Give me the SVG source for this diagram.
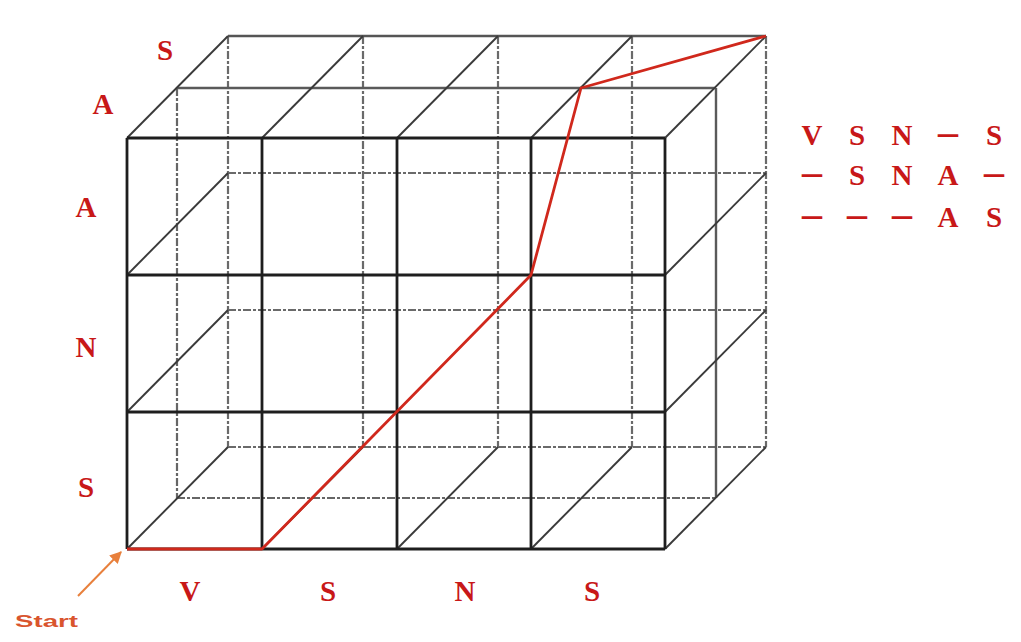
<svg xmlns="http://www.w3.org/2000/svg" width="1021" height="642" viewBox="0 0 1021 642">
<style>
.back{stroke:#6a6a6a;stroke-width:2.2;stroke-dasharray:8 2 3 2;fill:none}
.backedge{stroke:#555;stroke-width:2.4;fill:none}
.mid{stroke:#5a5a5a;stroke-width:2.4;fill:none}
.middash{stroke:#666;stroke-width:2.2;stroke-dasharray:8 2 3 2;fill:none}
.depth{stroke:#3a3a3a;stroke-width:1.9;fill:none}
.front{stroke:#1e1e1e;stroke-width:2.8;fill:none}
.path{stroke:#d0281c;stroke-width:2.8;fill:none;stroke-linejoin:round}
.lab{font-family:"Liberation Serif",serif;font-weight:bold;font-size:29px;fill:#c81818;text-anchor:middle}
.dash{font-size:40px}
</style>
<defs>
<marker id="ah" viewBox="0 0 10 10" refX="9" refY="5" markerWidth="6" markerHeight="6" orient="auto">
<path d="M0,0 L10,5 L0,10 z" fill="#e8803c"/>
</marker>
</defs>
<rect width="1021" height="642" fill="#ffffff"/>
<g id="connectors">
<g id="back-face">
<line class="back" x1="228" y1="36" x2="228" y2="447"/>
<line class="back" x1="363" y1="36" x2="363" y2="447"/>
<line class="back" x1="498" y1="36" x2="498" y2="447"/>
<line class="back" x1="632" y1="36" x2="632" y2="447"/>
<line class="back" x1="766" y1="36" x2="766" y2="447"/>
<line class="backedge" x1="228" y1="36" x2="766" y2="36"/>
<line class="back" x1="228" y1="173" x2="766" y2="173"/>
<line class="back" x1="228" y1="310" x2="766" y2="310"/>
<line class="back" x1="228" y1="447" x2="766" y2="447"/>
</g>
<g id="middle-edges">
<line class="mid" x1="177" y1="88" x2="716" y2="88"/>
<line class="mid" x1="716" y1="88" x2="716" y2="498"/>
<line class="middash" x1="177" y1="88" x2="177" y2="498"/>
<line class="middash" x1="177" y1="498" x2="716" y2="498"/>
</g>
<g id="depth-lines">
<line class="depth" x1="127" y1="138" x2="228" y2="36"/>
<line class="depth" x1="262" y1="138" x2="363" y2="36"/>
<line class="depth" x1="397" y1="138" x2="498" y2="36"/>
<line class="depth" x1="531" y1="138" x2="632" y2="36"/>
<line class="depth" x1="665" y1="138" x2="766" y2="36"/>
<line class="depth" x1="665" y1="275" x2="766" y2="173"/>
<line class="depth" x1="665" y1="412" x2="766" y2="310"/>
<line class="depth" x1="665" y1="549" x2="766" y2="447"/>
<line class="depth" x1="127" y1="275" x2="228" y2="173"/>
<line class="depth" x1="127" y1="412" x2="228" y2="310"/>
<line class="depth" x1="127" y1="549" x2="228" y2="447"/>
<line class="depth" x1="262" y1="549" x2="363" y2="447"/>
<line class="depth" x1="397" y1="549" x2="498" y2="447"/>
<line class="depth" x1="531" y1="549" x2="632" y2="447"/>
</g>
<g id="front-face">
<line class="front" x1="127" y1="138" x2="127" y2="549"/>
<line class="front" x1="262" y1="138" x2="262" y2="549"/>
<line class="front" x1="397" y1="138" x2="397" y2="549"/>
<line class="front" x1="531" y1="138" x2="531" y2="549"/>
<line class="front" x1="665" y1="138" x2="665" y2="549"/>
<line class="front" x1="127" y1="138" x2="665" y2="138"/>
<line class="front" x1="127" y1="275" x2="665" y2="275"/>
<line class="front" x1="127" y1="412" x2="665" y2="412"/>
<line class="front" x1="127" y1="549" x2="665" y2="549"/>
</g>
<polyline id="red-path" class="path" points="127,549 262,549 531,275 581,88 766,36"/>
<line id="start-arrow" x1="78" y1="596" x2="121" y2="552" stroke="#e8803c" stroke-width="2" marker-end="url(#ah)"/>
</g>
<g id="label-left">
<text class="lab" x="165" y="60">S</text>
<text class="lab" x="103" y="114">A</text>
<text class="lab" x="86" y="217">A</text>
<text class="lab" x="86" y="357">N</text>
<text class="lab" x="86" y="497">S</text>
</g>
<g id="label-bottom">
<text class="lab" x="190" y="601">V</text>
<text class="lab" x="328" y="601">S</text>
<text class="lab" x="465" y="601">N</text>
<text class="lab" x="592" y="601">S</text>
</g>
<g id="label-start">
<text x="15" y="627" font-family="Liberation Sans,sans-serif" font-weight="bold" font-size="17" fill="#d9552e" textLength="63" lengthAdjust="spacingAndGlyphs">Start</text>
</g>
<g id="sequence-table">
<text class="lab" x="812" y="145">V</text>
<text class="lab" x="857" y="145">S</text>
<text class="lab" x="902" y="145">N</text>
<text class="lab dash" x="948" y="145">–</text>
<text class="lab" x="994" y="145">S</text>
<text class="lab dash" x="812" y="185">–</text>
<text class="lab" x="857" y="185">S</text>
<text class="lab" x="902" y="185">N</text>
<text class="lab" x="948" y="185">A</text>
<text class="lab dash" x="994" y="185">–</text>
<text class="lab dash" x="812" y="227">–</text>
<text class="lab dash" x="857" y="227">–</text>
<text class="lab dash" x="902" y="227">–</text>
<text class="lab" x="948" y="227">A</text>
<text class="lab" x="994" y="227">S</text>
</g>
</svg>
